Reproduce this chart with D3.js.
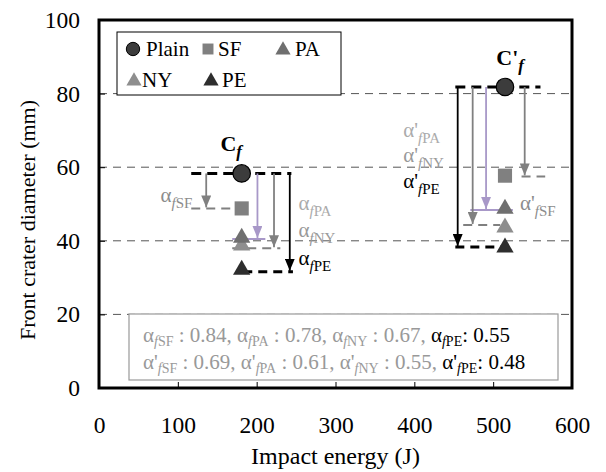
<!DOCTYPE html>
<html>
<head>
<meta charset="utf-8">
<script src="https://cdn.jsdelivr.net/npm/d3@7"></script>
<style>
  body { margin: 0; background: #fff; }
  svg text { font-family: "Liberation Serif", "Times New Roman", serif; }
</style>
</head>
<body>
<div id="chart"></div>
<script>
// impact energies of the two test groups
const energies = [181, 515];
// front crater diameter (mm) per specimen type
const plainVals = [58.3, 81.8];
const sfVals = [48.8, 57.7];
const paVals = [40.8, 48.7];
const nyVals = [38.7, 43.6];
const peVals = [32.1, 38.2];

const xTicks = [0, 100, 200, 300, 400, 500, 600];
const yTicks = [0, 20, 40, 60, 80, 100];

// reduction arrows: energy position, level the arrow drops to, span of the dashed level line
const arrowX = { SF: [136, 540], PA: [201, 491], NY: [222, 474], PE: [242, 455] };
const arrowEnd = { SF: [48.8, 57.5], PA: [40.5, 48.4], NY: [38.0, 44.3], PE: [31.6, 38.3] };
const levelFrom = { Plain: [117, 452], SF: [117, 536], PA: [169, 471], NY: [169, 462], PE: [183, 452] };
const levelTo = { Plain: [244, 560], SF: [172, 566], PA: [211, 525], NY: [230, 509], PE: [246, 515] };

const ratioLine1 = [["SF", "0.84"], ["PA", "0.78"], ["NY", "0.67"], ["PE", "0.55"]];
const ratioLine2 = [["SF", "0.69"], ["PA", "0.61"], ["NY", "0.55"], ["PE", "0.48"]];

const FONT = "'Liberation Serif', 'Times New Roman', serif";
const W = 606, H = 472;
const svg = d3.select("#chart").append("svg").attr("width", W).attr("height", H)
    .attr("font-family", FONT);

const x = d3.scaleLinear().domain([0, 600]).range([99, 572]);
const y = d3.scaleLinear().domain([0, 100]).range([388, 20]);

const col = {
    Plain: "#3c3c3c", SF: "#808080", PA: "#6f6f6f", NY: "#8e8e8e", PE: "#2e2e2e"
};
const arrowCol = { SF: "#808080", PA: "#a898c8", NY: "#808080", PE: "#000" };
const labelCol = { SF: "#8c8c8c", PA: "#ababab", NY: "#999", PE: "#000" };

// grid lines
svg.append("g").selectAll("line")
    .data(yTicks.filter(d => d > 0 && d < 100))
    .enter().append("line")
    .attr("x1", x(0)).attr("x2", x(600))
    .attr("y1", d => y(d)).attr("y2", d => y(d))
    .attr("stroke", "#555").attr("stroke-width", 1)
    .attr("stroke-dasharray", "8,6");

// axes
const gx = svg.append("g").attr("transform", `translate(0,${y(0)})`)
    .call(d3.axisBottom(x).tickValues(xTicks).tickSizeInner(-6).tickSizeOuter(0).tickPadding(0));
const gy = svg.append("g").attr("transform", `translate(${x(0)},0)`)
    .call(d3.axisLeft(y).tickValues(yTicks).tickSizeInner(-6).tickSizeOuter(0).tickPadding(19));
[gx, gy].forEach(g => {
    g.attr("font-family", FONT).attr("font-size", 23.5);
    g.select(".domain").remove();
    g.selectAll("line").attr("stroke", "#000").attr("stroke-width", 1);
    g.selectAll("text").attr("fill", "#000");
});
gx.selectAll("text").attr("y", 45).attr("dy", null);
gx.selectAll(".tick").filter(d => d === 0 || d === 600).select("line").remove();
gy.selectAll(".tick").filter(d => d === 0 || d === 100).select("line").remove();

// frame
svg.append("rect")
    .attr("x", x(0)).attr("y", y(100))
    .attr("width", x(600) - x(0)).attr("height", y(0) - y(100))
    .attr("fill", "none").attr("stroke", "#000").attr("stroke-width", 3);

// axis titles
svg.append("text").attr("x", (x(0) + x(600)) / 2).attr("y", 464)
    .attr("text-anchor", "middle").attr("font-size", 24).text("Impact energy (J)");
svg.append("text").attr("transform", "rotate(-90)")
    .attr("x", -220).attr("y", 35)
    .attr("text-anchor", "middle").attr("font-size", 22).text("Front crater diameter (mm)");

// arrowhead markers
const defs = svg.append("defs");
Object.keys(arrowCol).forEach(k => {
    defs.append("marker").attr("id", "ah-" + k)
        .attr("viewBox", "0 0 10 12").attr("refX", 5).attr("refY", 12)
        .attr("markerWidth", 10).attr("markerHeight", 12)
        .attr("markerUnits", "userSpaceOnUse").attr("orient", "0")
        .append("path").attr("d", "M0,0L10,0L5,12Z").attr("fill", arrowCol[k]);
});

// dashed level lines
const levelStyle = {
    Plain: { c: "#000", w: 3, d: "10,6" },
    SF: { c: "#808080", w: 2, d: "9,6" },
    PA: { c: "#a898c8", w: 2, d: null },
    NY: { c: "#808080", w: 2, d: "9,6" },
    PE: { c: "#000", w: 3, d: "9,6" }
};
const levelVal = { Plain: plainVals, SF: arrowEnd.SF, PA: arrowEnd.PA, NY: arrowEnd.NY, PE: arrowEnd.PE };
Object.keys(levelFrom).forEach(k => {
    energies.forEach((e, i) => {
        const s = levelStyle[k];
        svg.append("line")
            .attr("x1", x(levelFrom[k][i])).attr("x2", x(levelTo[k][i]))
            .attr("y1", y(levelVal[k][i])).attr("y2", y(levelVal[k][i]))
            .attr("stroke", s.c).attr("stroke-width", s.w)
            .attr("stroke-dasharray", s.d);
    });
});

// arrows
Object.keys(arrowX).forEach(k => {
    energies.forEach((e, i) => {
        svg.append("line")
            .attr("x1", x(arrowX[k][i])).attr("x2", x(arrowX[k][i]))
            .attr("y1", y(plainVals[i])).attr("y2", y(arrowEnd[k][i]) - 1)
            .attr("stroke", arrowCol[k]).attr("stroke-width", 1.8)
            .attr("marker-end", `url(#ah-${k})`);
    });
});

// points
const sym = {
    Plain: d3.symbol().type(d3.symbolCircle).size(240),
    SF: d3.symbol().type(d3.symbolSquare).size(200),
    tri: d3.symbol().type(d3.symbolTriangle).size(130)
};
function drawPoints(vals, key) {
    svg.append("g").selectAll("path")
        .data(vals).enter().append("path")
        .attr("transform", (d, i) => `translate(${x(energies[i])},${y(d)})`)
        .attr("d", key === "Plain" ? sym.Plain : key === "SF" ? sym.SF : sym.tri)
        .attr("fill", col[key])
        .attr("stroke", key === "Plain" ? "#000" : "none").attr("stroke-width", 1.2);
}
drawPoints(sfVals, "SF");
drawPoints(peVals, "PE");
drawPoints(nyVals, "NY");
drawPoints(paVals, "PA");
drawPoints(plainVals, "Plain");

// alpha label with subscript
function alphaLabel(px, py, primed, name, color) {
    const t = svg.append("text").attr("x", x(px)).attr("y", y(py)).attr("fill", color);
    t.append("tspan").attr("font-size", 21).text(primed ? "α'" : "α");
    t.append("tspan").attr("font-size", 15).attr("font-style", "italic")
        .attr("dy", 6).text("f");
    t.append("tspan").attr("font-size", 15).text(name);
}
alphaLabel(78, 50.6, false, "SF", labelCol.SF);
alphaLabel(253, 48.4, false, "PA", labelCol.PA);
alphaLabel(253, 41.0, false, "NY", labelCol.NY);
alphaLabel(253, 33.4, false, "PE", labelCol.PE);
alphaLabel(386, 68.2, true, "PA", labelCol.PA);
alphaLabel(386, 61.4, true, "NY", labelCol.NY);
alphaLabel(386, 54.3, true, "PE", labelCol.PE);
alphaLabel(534, 48.4, true, "SF", labelCol.SF);

// C_f labels
function cLabel(px, py, primed) {
    const t = svg.append("text").attr("x", x(px)).attr("y", y(py))
        .attr("font-size", 22).attr("font-weight", "bold");
    t.append("tspan").text(primed ? "C'" : "C");
    t.append("tspan").attr("font-style", "italic").attr("font-size", 17)
        .attr("dy", 6).text("f");
}
cLabel(154, 64.4, false);
cLabel(504, 87.8, true);

// legend
const lg = svg.append("g");
lg.append("rect").attr("x", 117).attr("y", 32).attr("width", 224).attr("height", 63)
    .attr("fill", "#fff").attr("stroke", "#000").attr("stroke-width", 1);
const legendItems = [
    { k: "Plain", sx: 133, sy: 49, tx: 146 },
    { k: "SF", sx: 208, sy: 49, tx: 218 },
    { k: "PA", sx: 283, sy: 49, tx: 295 },
    { k: "NY", sx: 134, sy: 80, tx: 142 },
    { k: "PE", sx: 211, sy: 80, tx: 222 }
];
legendItems.forEach(it => {
    const s = it.k === "Plain" ? d3.symbol().type(d3.symbolCircle).size(140)
        : it.k === "SF" ? d3.symbol().type(d3.symbolSquare).size(120)
        : d3.symbol().type(d3.symbolTriangle).size(100);
    lg.append("path").attr("transform", `translate(${it.sx},${it.sy + (it.k === "Plain" || it.k === "SF" ? 0 : 1)})`)
        .attr("d", s).attr("fill", col[it.k])
        .attr("stroke", it.k === "Plain" ? "#000" : "none");
    lg.append("text").attr("x", it.tx).attr("y", it.sy + 7).attr("font-size", 21).text(it.k);
});

// ratio box
svg.append("rect").attr("x", 129).attr("y", 314).attr("width", 429).attr("height", 66)
    .attr("fill", "#fff").attr("stroke", "#999").attr("stroke-width", 1.2);
function ratioLine(items, primed, baseY) {
    const t = svg.append("text").attr("x", 143).attr("y", baseY).attr("font-size", 21);
    items.forEach(([name, v], i) => {
        const c = name === "PE" ? "#000" : "#999";
        if (name === "PE") t.append("tspan").text(" ");
        t.append("tspan").attr("fill", c).text(primed ? "α'" : "α");
        t.append("tspan").attr("fill", c).attr("font-size", 14).attr("font-style", "italic").attr("dy", 4).text("f");
        t.append("tspan").attr("fill", c).attr("font-size", 14).text(name);
        t.append("tspan").attr("fill", c).attr("dy", -4)
            .text(name === "PE" ? ": " + v : " : " + v + (i < items.length - 1 ? ", " : ""));
    });
}
ratioLine(ratioLine1, false, 342);
ratioLine(ratioLine2, true, 369);
</script>
</body>
</html>
